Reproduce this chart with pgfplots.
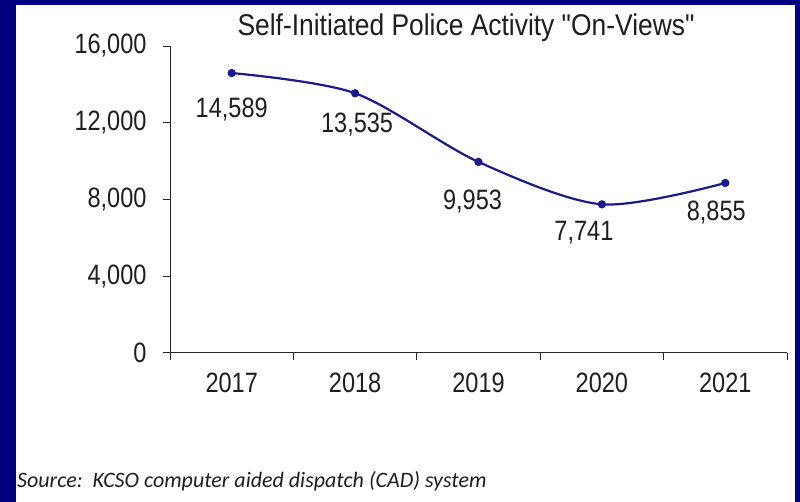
\documentclass[border=0pt]{standalone}
\usepackage{fontspec}
\usepackage{pgfplots}
\usepackage{pgfplotstable}
\pgfplotsset{compat=1.18}
\newfontfamily\arn[FakeStretch=0.84]{Liberation Sans}
\newfontfamily\arnt[FakeStretch=0.88]{Liberation Sans}
\newfontfamily\src{Carlito}
\definecolor{navyb}{RGB}{0,0,128}
\definecolor{linec}{RGB}{26,26,140}
\definecolor{axc}{RGB}{40,40,40}
\definecolor{txt}{RGB}{30,30,30}

\pgfplotstableread{
x y dx dy
0.5 14589 0 -36
1.5 13535 2 -31
2.5 9953 -6 -40
3.5 7741 -18 -28
4.5 8855 -9 -30
}\data

\begin{document}
\begin{tikzpicture}[x=1bp,y=1bp]
\fill[navyb] (0,0) rectangle (800,-502);
\fill[white] (16,-5) rectangle (795,-502);
\begin{axis}[at={(170bp,-352.7bp)}, anchor=south west,
  scale only axis, width=617bp, height=306.7bp,
  xmin=0, xmax=5, ymin=0, ymax=16000,
  axis x line=bottom, axis y line=left,
  axis line style={axc, line width=0.8bp, -},
  xtick={0,...,5}, xticklabels={2017,2018,2019,2020,2021},
  x tick label as interval,
  ytick={0,4000,...,16000},
  scaled y ticks=false,
  tick align=outside, major tick length=7bp,
  tick style={axc, line width=0.8bp},
  /pgf/number format/assume math mode=true,
  /pgf/number format/1000 sep={,},
  ticklabel style={font=\arn\fontsize{28bp}{32bp}\selectfont, text=txt},
  yticklabel style={xshift=-13bp},
  xticklabel style={yshift=-10bp},
  clip=false,
]
\addplot[linec, line width=2.2bp, smooth, mark=*, mark size=3bp,
  mark options={fill=linec, draw=linec},
  point meta=explicit,
  nodes near coords={\pgfmathprintnumber[assume math mode=true,1000 sep={,}]{\pgfplotspointmeta}},
  visualization depends on={\thisrow{dx}\as\dx},
  visualization depends on={\thisrow{dy}\as\dy},
  every node near coord/.append style={anchor=center, xshift=\dx bp, yshift=\dy bp,
    font=\arn\fontsize{28bp}{32bp}\selectfont, text=txt}]
  table[x=x, y=y, meta=y]{\data};
\end{axis}
\node[font=\arnt\fontsize{30bp}{36bp}\selectfont, text=txt] at (466,-28) {Self-Initiated Police Activity "On-Views"};
\node[anchor=base west, inner sep=0pt, font=\src\itshape\fontsize{22bp}{26bp}\selectfont, text=txt] at (17,-487) {Source:\ \ KCSO computer aided dispatch (CAD) system};
\end{tikzpicture}
\end{document}
